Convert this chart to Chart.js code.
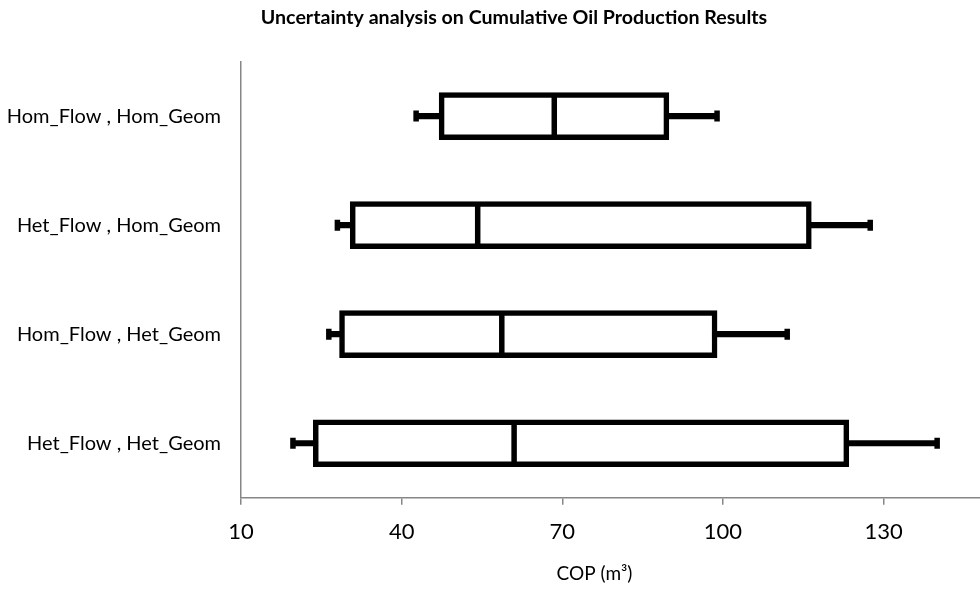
<!DOCTYPE html>
<html>
<head>
<meta charset="utf-8">
<script src="https://cdn.jsdelivr.net/npm/chart.js@4.4.1/dist/chart.umd.min.js"></script>
<style>
  body { margin: 0; background: #fff; }
  #wrap { width: 980px; height: 589px; }
</style>
</head>
<body>
<div id="wrap"><canvas id="boxChart"></canvas></div>
<script>
// box plot values
const categories = ["Hom_Flow , Hom_Geom", "Het_Flow , Hom_Geom", "Hom_Flow , Het_Geom", "Het_Flow , Het_Geom"];
const minVals    = [42.7, 28.0, 26.4, 19.7];
const q1Vals     = [47.0, 30.4, 28.4, 23.5];
const medianVals = [68.5, 54.2, 58.7, 61.0];
const q3Vals     = [89.9, 116.5, 98.9, 123.5];
const maxVals    = [98.9, 127.5, 112.0, 140.0];
const xTickVals  = [10, 40, 70, 100, 130];
const xMin = 10, xMax = 148;

const chartTitle = "Uncertainty analysis on Cumulative Oil Production Results";
const xTitle = "COP (m³)";
const FONT = "Lato, 'Liberation Sans', sans-serif";

let whiskers = categories.map((c, i) => [minVals[i], maxVals[i]]);
let boxes = categories.map((c, i) => [q1Vals[i], q3Vals[i]]);
let medians = categories.map((c, i) => ({x: medianVals[i], y: c}));
let caps = [];
categories.forEach((c, i) => {
  caps.push({x: minVals[i], y: c});
  caps.push({x: maxVals[i], y: c});
});

// the titles in the picture sit a bit off centre
const titleShift = {
  id: "titleShift",
  afterLayout(chart) {
    chart.boxes.forEach(b => {
      if (!b.options) return;
      let dx = 0;
      if (b.options.text === chartTitle) dx = 24;
      if (b.options.text === xTitle) dx = -16;
      b.left += dx;
      b.right += dx;
    });
  }
};

new Chart("boxChart", {
  type: "bar",
  data: {
    labels: categories,
    datasets: [
      {
        label: "whisker",
        data: whiskers,
        backgroundColor: "#000",
        barThickness: 5.5,
        grouped: false,
        order: 3
      },
      {
        label: "box",
        data: boxes,
        backgroundColor: "#fff",
        borderColor: "#000",
        borderWidth: 5.5,
        borderSkipped: false,
        barThickness: 47,
        grouped: false,
        order: 2
      },
      {
        type: "scatter",
        label: "median",
        data: medians,
        pointStyle: "line",
        rotation: 90,
        radius: 22,
        borderWidth: 5.5,
        borderColor: "#000",
        order: 1
      },
      {
        type: "scatter",
        label: "caps",
        data: caps,
        pointStyle: "line",
        rotation: 90,
        radius: 5.5,
        borderWidth: 5.5,
        borderColor: "#000",
        order: 1
      }
    ]
  },
  plugins: [titleShift],
  options: {
    indexAxis: "y",
    responsive: true,
    maintainAspectRatio: false,
    animation: false,
    layout: { autoPadding: false, padding: { left: 0, right: 0, top: 0, bottom: 4 } },
    plugins: {
      legend: { display: false },
      tooltip: { enabled: false },
      title: {
        display: true,
        text: chartTitle,
        color: "#000",
        font: { family: FONT, size: 19.6, weight: "bold" },
        padding: { top: 6, bottom: 32 }
      },
      subtitle: {
        display: true,
        position: "bottom",
        fullSize: false,
        text: xTitle,
        color: "#000",
        font: { family: FONT, size: 19 },
        padding: { top: 3, bottom: 0 }
      }
    },
    scales: {
      x: {
        type: "linear",
        min: xMin,
        max: xMax,
        afterBuildTicks: function(scale) {
          scale.ticks = xTickVals.map(v => ({value: v}));
        },
        afterFit: function(scale) {
          scale.paddingRight = 0;
          scale.paddingLeft = 0;
        },
        ticks: { color: "#000", font: { family: FONT, size: 22 }, padding: 14 },
        grid: { drawOnChartArea: false, drawTicks: true, tickLength: 7, color: "#868686", lineWidth: 1.5 },
        border: { display: true, color: "#868686", width: 1.5 }
      },
      y: {
        type: "category",
        ticks: { color: "#000", font: { family: FONT, size: 20 }, padding: 20 },
        grid: { drawOnChartArea: false, drawTicks: false },
        border: { display: true, color: "#868686", width: 1.5 },
        afterFit: function(scale) { scale.width = 241; }
      }
    }
  }
});
</script>
</body>
</html>
